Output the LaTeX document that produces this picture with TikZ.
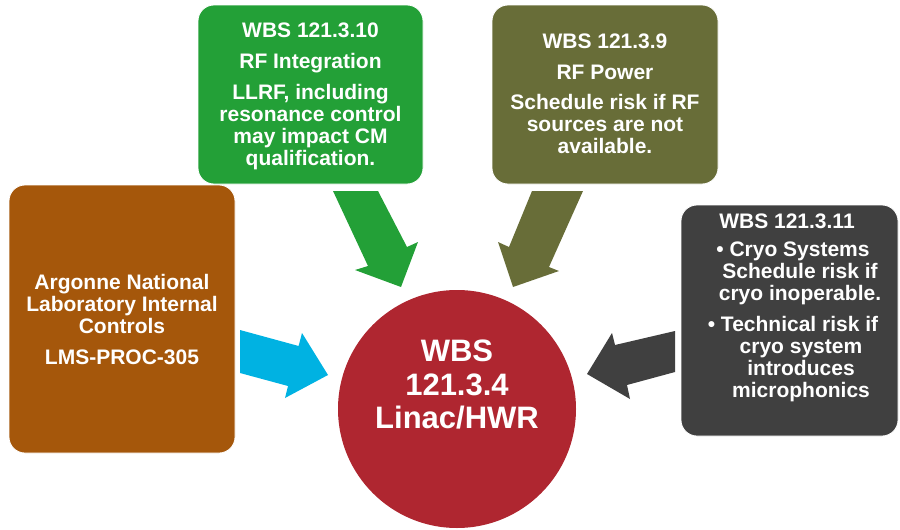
\documentclass[tikz,border=0pt]{standalone}
\usepackage{fontspec}
\setmainfont{Liberation Sans}
\definecolor{cbrown}{RGB}{165,87,11}
\definecolor{cgreen}{RGB}{35,160,55}
\definecolor{colive}{RGB}{104,109,56}
\definecolor{cdark}{RGB}{64,64,64}
\definecolor{cred}{RGB}{175,38,48}
\definecolor{ccyan}{RGB}{0,178,226}
\tikzset{
  box/.style={draw=white, line width=0.8pt, rounded corners=16pt, inner sep=0pt},
  txt/.style={text=white, align=center, inner sep=0pt, anchor=north,
              font=\fontsize{21}{22}\selectfont\bfseries},
  bigtxt/.style={text=white, align=center, inner sep=0pt, anchor=north,
              font=\fontsize{31}{33.5}\selectfont\bfseries},
  blockarrow/.style={draw=none}
}
\begin{document}
\begin{tikzpicture}[x=1pt,y=-1pt]
\useasboundingbox (0,0) rectangle (900,530);

% boxes
\node[box, fill=cbrown, minimum width=226pt, minimum height=268pt] (anl) at (122,319) {};
\node[box, fill=cgreen, minimum width=225pt, minimum height=179pt] (rfi) at (310.5,94.5) {};
\node[box, fill=colive, minimum width=226pt, minimum height=179pt] (rfp) at (605,94.5) {};
\node[box, fill=cdark, minimum width=217pt, minimum height=231pt] (cryo) at (789.5,320.5) {};
\node[circle, fill=cred, minimum size=238pt, inner sep=0pt] (linac) at (457,409) {};

% texts
\node[txt] (anlT) at (122,274) {Argonne National\\Laboratory Internal\\Controls\\[9pt]LMS-PROC-305};
\node[txt] (rfiT) at (310.5,22.7) {WBS 121.3.10\\[9pt]RF Integration\\[9pt]LLRF, including\\resonance control\\may impact CM\\qualification.};
\node[txt] (rfpT) at (605,33.3) {WBS 121.3.9\\[9pt]RF Power\\[8pt]Schedule risk if RF\\sources are not\\available.};
\node[txt] (cryoT) at (787,214) {WBS 121.3.11\\[6pt]
\hspace*{12pt}• Cryo Systems\\
\hspace*{26pt}Schedule risk if\\
\hspace*{26pt}cryo inoperable.\\[9pt]
\hspace*{12pt}• Technical risk if\\
\hspace*{28pt}cryo system\\
\hspace*{28pt}introduces\\
\hspace*{28pt}microphonics};
\node[bigtxt] (linacT) at (457,340) {WBS\\121.3.4\\Linac/HWR};

% block arrows
\fill[ccyan, blockarrow] (240,330) -- (298.6,346) -- (302,333) -- (328,375) -- (285,398) -- (288,386) -- (240,373) -- cycle;
\fill[cgreen, blockarrow] (333,191) -- (378,191) -- (407,247) -- (418,242) -- (401,287) -- (355,270) -- (368,266) -- cycle;
\fill[colive, blockarrow] (532,191) -- (583,191) -- (549,267) -- (559,271) -- (513,287) -- (498,242) -- (509,247) -- cycle;
\fill[cdark, blockarrow] (675,331) -- (675,372) -- (627,385) -- (630,399) -- (587,374) -- (612,333) -- (615,345) -- cycle;
\end{tikzpicture}
\end{document}
